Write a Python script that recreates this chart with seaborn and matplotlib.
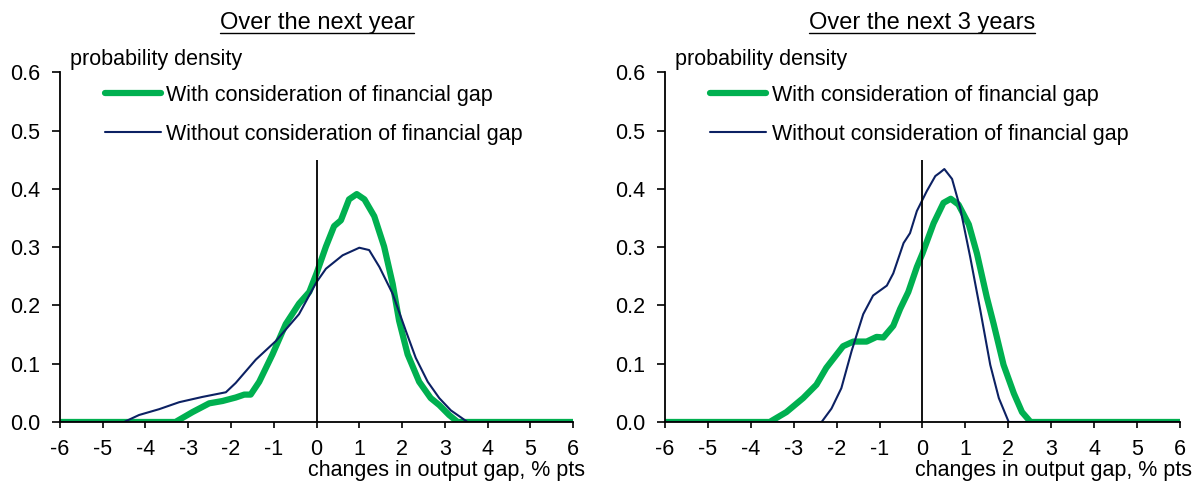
import numpy as np
import pandas as pd
import matplotlib
matplotlib.use("Agg")
import matplotlib.pyplot as plt
import seaborn as sns
from matplotlib.lines import Line2D

# panel 1: over the next year
x_with_1y = [-6, -3.3, -2.9, -2.51, -2.2, -1.89, -1.69, -1.54, -1.34, -1.03, -0.72, -0.41,
             -0.17, 0.0, 0.22, 0.41, 0.57, 0.76, 0.94, 1.12, 1.35, 1.58, 1.78, 1.93, 2.13,
             2.40, 2.67, 2.87, 3.1, 3.3, 6]
y_with_1y = [0, 0, 0.017, 0.032, 0.036, 0.042, 0.047, 0.047, 0.069, 0.116, 0.168, 0.203,
             0.223, 0.255, 0.301, 0.336, 0.346, 0.382, 0.391, 0.382, 0.353, 0.301, 0.237,
             0.174, 0.116, 0.069, 0.041, 0.029, 0.012, 0, 0]
x_wo_1y = [-6, -4.5, -4.15, -3.68, -3.21, -2.67, -2.12, -1.89, -1.42, -0.95, -0.41, 0.0,
           0.22, 0.61, 1.0, 1.23, 1.47, 1.78, 2.09, 2.32, 2.6, 2.87, 3.14, 3.53, 6]
y_wo_1y = [0, 0, 0.012, 0.022, 0.034, 0.043, 0.051, 0.067, 0.107, 0.139, 0.185, 0.240,
           0.263, 0.286, 0.299, 0.295, 0.266, 0.22, 0.156, 0.11, 0.069, 0.041, 0.02, 0, 0]

# panel 2: over the next 3 years
x_with_3y = [-6, -3.56, -3.17, -2.78, -2.47, -2.24, -1.85, -1.61, -1.30, -1.07, -0.91, -0.68,
             -0.52, -0.33, -0.13, 0.0, 0.26, 0.49, 0.66, 0.84, 1.08, 1.27, 1.50, 1.66, 1.89,
             2.13, 2.32, 2.52, 6]
y_with_3y = [0, 0, 0.017, 0.041, 0.064, 0.093, 0.130, 0.138, 0.138, 0.146, 0.145, 0.165,
             0.194, 0.223, 0.266, 0.289, 0.341, 0.376, 0.383, 0.373, 0.339, 0.289, 0.214,
             0.168, 0.098, 0.049, 0.017, 0, 0]
x_wo_3y = [-6, -2.35, -2.12, -1.89, -1.65, -1.38, -1.15, -0.83, -0.68, -0.44, -0.29, -0.13,
           0.10, 0.30, 0.41, 0.51, 0.69, 0.88, 1.11, 1.35, 1.58, 1.78, 2.01, 6]
y_wo_3y = [0, 0, 0.023, 0.058, 0.122, 0.185, 0.217, 0.234, 0.255, 0.307, 0.324, 0.362,
           0.396, 0.422, 0.428, 0.434, 0.417, 0.367, 0.284, 0.191, 0.098, 0.041, 0, 0]

titles = ["Over the next year", "Over the next 3 years"]
label_with = "With consideration of financial gap"
label_wo = "Without consideration of financial gap"
x_ticks = list(range(-6, 7))
y_ticks = [0.0, 0.1, 0.2, 0.3, 0.4, 0.5, 0.6]

green = "#00b050"
navy = "#0c2163"
fs = 15.5

sns.set_style("ticks")
plt.rcParams["font.family"] = ["Liberation Sans", "DejaVu Sans"]
plt.rcParams["font.size"] = fs
plt.rcParams["text.color"] = "black"
plt.rcParams["xtick.color"] = "black"
plt.rcParams["ytick.color"] = "black"

fig = plt.figure(figsize=(11.99, 4.82), dpi=100)
ax1 = fig.add_axes([0.050, 0.1245, 0.428, 0.7255])
ax2 = fig.add_axes([0.5546, 0.1245, 0.4295, 0.7255])

panels = [
    (ax1, x_with_1y, y_with_1y, x_wo_1y, y_wo_1y),
    (ax2, x_with_3y, y_with_3y, x_wo_3y, y_wo_3y),
]

for ax, xw, yw, xo, yo in panels:
    sns.lineplot(x=xw, y=yw, ax=ax, color=green, linewidth=4.5, label=label_with,
                 sort=False, estimator=None, solid_joinstyle="round", solid_capstyle="round")
    sns.lineplot(x=xo, y=yo, ax=ax, color=navy, linewidth=1.5, label=label_wo,
                 sort=False, estimator=None)
    ax.vlines(0, 0, 0.45, color="black", linewidth=1.3, zorder=3)
    ax.set_xlim(-6, 6)
    ax.set_ylim(0, 0.6)
    ax.set_xticks(x_ticks)
    ax.set_xticklabels([str(v) for v in x_ticks])
    ax.set_yticks(y_ticks)
    ax.set_yticklabels([f"{v:.1f}" for v in y_ticks])
    ax.tick_params(axis="x", labelsize=fs, length=4, width=1.2, pad=8)
    ax.tick_params(axis="y", labelsize=fs, length=6, width=1.2, pad=8)
    for s in ["top", "right"]:
        ax.spines[s].set_visible(False)
    for s in ["left", "bottom"]:
        ax.spines[s].set_color("black")
        ax.spines[s].set_linewidth(1.3)
        ax.spines[s].set_zorder(4)
    ax.set_xlabel("")
    ax.set_ylabel("")
    ax.text(0.02, 1.036, "probability density", transform=ax.transAxes,
            ha="left", va="center", fontsize=fs)
    ax.legend(loc="upper left", bbox_to_anchor=(0.088, 0.965), frameon=False,
              fontsize=fs, handlelength=2.6, handletextpad=0.25, labelspacing=0.85,
              borderpad=0, borderaxespad=0)

# x-axis captions, right-aligned just past each axis, kept inside the figure
for ax in [ax1, ax2]:
    pos = ax.get_position()
    fig.text(min(pos.x1 + 0.01, 0.997), 0.003, "changes in output gap, % pts",
             ha="right", va="bottom", fontsize=fs)

# underlined panel titles
title_x = [0.2644, 0.769]
texts = []
for tx, tt in zip(title_x, titles):
    texts.append(fig.text(tx, 0.952, tt, ha="center", va="center", fontsize=17))

fig.canvas.draw()
renderer = fig.canvas.get_renderer()
inv = fig.transFigure.inverted()
for t in texts:
    bb = t.get_window_extent(renderer=renderer)
    (x0, y0), (x1, y1) = inv.transform([(bb.x0, bb.y0), (bb.x1, bb.y1)])
    fig.add_artist(Line2D([x0, x1], [y0 + 0.002, y0 + 0.002], transform=fig.transFigure,
                          color="black", linewidth=1.0))

fig.savefig("out.png", dpi=100)
